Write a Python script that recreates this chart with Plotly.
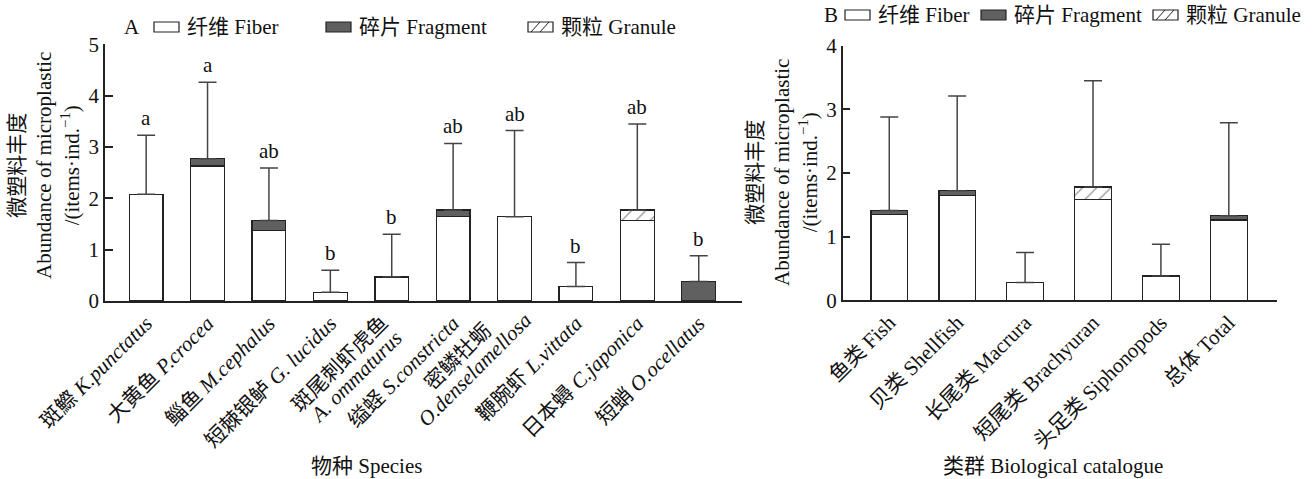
import plotly.graph_objects as go

W, H = 1315, 479
FONT = "Liberation Serif, Times New Roman, Noto Sans CJK SC, serif"
INK = "#222222"
FRAG = "#606060"
FS = 21

# ---- Panel A: species ----
species = [
    "斑鰶 <i>K.punctatus</i>", "大黄鱼 <i>P.crocea</i>", "鲻鱼 <i>M.cephalus</i>",
    "短棘银鲈 <i>G. lucidus</i>", "斑尾刺虾虎鱼<br><i>A. ommaturus</i>",
    "缢蛏 <i>S.constricta</i>", "密鳞牡蛎<br><i>O.denselamellosa</i>",
    "鞭腕虾 <i>L.vittata</i>", "日本蟳 <i>C.japonica</i>", "短蛸 <i>O.ocellatus</i>",
]
a_fiber = [2.08, 2.63, 1.38, 0.17, 0.47, 1.64, 1.64, 0.28, 1.57, 0.0]
a_fragment = [0.0, 0.14, 0.19, 0.0, 0.0, 0.13, 0.0, 0.0, 0.0, 0.38]
a_granule = [0.0, 0.0, 0.0, 0.0, 0.0, 0.0, 0.0, 0.0, 0.20, 0.0]
a_sd = [1.15, 1.49, 1.02, 0.43, 0.83, 1.30, 1.68, 0.47, 1.68, 0.50]
a_letters = ["a", "a", "ab", "b", "b", "ab", "ab", "b", "ab", "b"]

# ---- Panel B: biological groups ----
groups = ["鱼类 Fish", "贝类 Shellfish", "长尾类 Macrura", "短尾类 Brachyuran",
          "头足类 Siphonopods", "总体 Total"]
b_fiber = [1.35, 1.65, 0.28, 1.58, 0.38, 1.26]
b_fragment = [0.06, 0.07, 0.0, 0.0, 0.0, 0.07]
b_granule = [0.0, 0.0, 0.0, 0.20, 0.0, 0.0]
b_sd = [1.47, 1.49, 0.47, 1.67, 0.50, 1.46]

fig = go.Figure()


def nz(vals):
    # empty segments are left out so they draw no outline
    return [v if v > 0 else None for v in vals]


def add_panel(xa, ya, fiber, fragment, granule, sd, width):
    xs = list(range(len(fiber)))
    line = dict(color=INK, width=1.3)
    fig.add_bar(x=xs, y=nz(fiber), width=width, xaxis=xa, yaxis=ya,
                marker=dict(color="white", line=line), showlegend=False)
    fig.add_bar(x=xs, y=nz(fragment), width=width, xaxis=xa, yaxis=ya,
                marker=dict(color=FRAG, line=line), showlegend=False)
    fig.add_bar(x=xs, y=nz(granule), width=width, xaxis=xa, yaxis=ya,
                marker=dict(color="white", line=line,
                            pattern=dict(shape="/", fgcolor=INK, bgcolor="white",
                                         size=10, solidity=0.12)),
                showlegend=False)
    totals = [f + g + r for f, g, r in zip(fiber, fragment, granule)]
    fig.add_scatter(x=xs, y=totals, mode="markers", xaxis=xa, yaxis=ya,
                    marker=dict(size=1, color="rgba(0,0,0,0)"), showlegend=False,
                    error_y=dict(type="data", symmetric=False, array=sd,
                                 arrayminus=[0] * len(sd), color="#444444",
                                 thickness=1.5, width=9))
    return totals


a_tot = add_panel("x", "y", a_fiber, a_fragment, a_granule, a_sd, 0.55)
b_tot = add_panel("x2", "y2", b_fiber, b_fragment, b_granule, b_sd, 0.54)

axis_common = dict(showline=True, linecolor=INK, linewidth=1.5, showgrid=False,
                   zeroline=False, automargin=False,
                   tickfont=dict(family=FONT, size=FS, color="#111"))

# single-line species names go on the axis; two-line names are set separately
single = [i for i, s in enumerate(species) if "<br>" not in s]
multi = [i for i, s in enumerate(species) if "<br>" in s]

fig.update_layout(
    width=W, height=H, margin=dict(l=0, r=0, t=0, b=0),
    paper_bgcolor="white", plot_bgcolor="white", barmode="stack",
    font=dict(family=FONT, size=FS, color="#111"),
    xaxis=dict(domain=[105 / W, 741.7 / W], range=[-0.67, 9.70], anchor="y",
               tickvals=single, ticktext=[species[i] for i in single],
               tickangle=-45, ticks="", **axis_common),
    yaxis=dict(domain=[1 - 301 / H, 1 - 44.3 / H], range=[0, 5], anchor="x",
               tickvals=[0, 1, 2, 3, 4, 5], ticks="inside", ticklen=8,
               tickwidth=1.5, tickcolor=INK, **axis_common),
    xaxis2=dict(domain=[842.7 / W, 1276.7 / W], range=[-0.686, 5.705], anchor="y2",
                tickvals=list(range(len(groups))), ticktext=groups,
                tickangle=-45, ticks="", **axis_common),
    yaxis2=dict(domain=[1 - 300.3 / H, 1 - 45.7 / H], range=[0, 4], anchor="x2",
                tickvals=[0, 1, 2, 3, 4], ticks="inside", ticklen=8,
                tickwidth=1.5, tickcolor=INK, **axis_common),
)

# rotated two-line category names: (line offset from tick in px, line centre y in px)
line_offsets = [((-52, 364), (-36, 377)), ((-57, 357), (-40, 370))]
for i, offs in zip(multi, line_offsets):
    for part, (dx, yc) in zip(species[i].split("<br>"), offs):
        fig.add_annotation(x=i, xref="x", y=1 - yc / H, yref="paper", text=part,
                           xshift=dx, textangle=-45, showarrow=False,
                           xanchor="center", yanchor="middle",
                           font=dict(family=FONT, size=FS, color="#111"))

# significance letters above the error bars
for i, (t, s, lab) in enumerate(zip(a_tot, a_sd, a_letters)):
    fig.add_annotation(x=i, y=t + s, xref="x", yref="y", text=lab, showarrow=False,
                       yanchor="bottom", yshift=3, font=dict(family=FONT, size=FS))

ytitle = "微塑料丰度<br>Abundance of microplastic<br>/(items·ind.<sup>−1</sup>)"


def px(x, y):
    return x / W, 1 - y / H


def text_at(x, y, text, **kw):
    xp, yp = px(x, y)
    fig.add_annotation(x=xp, y=yp, xref="paper", yref="paper", text=text,
                       showarrow=False, font=dict(family=FONT, size=FS, color="#111"), **kw)


text_at(44, 166, ytitle, textangle=-90, xanchor="center", yanchor="middle")
text_at(782, 172, ytitle, textangle=-90, xanchor="center", yanchor="middle")
text_at(366, 466, "物种 Species", xanchor="center", yanchor="middle")
text_at(1053, 466, "类群 Biological catalogue", xanchor="center", yanchor="middle")


def legend_row(label_x, y, items, letter):
    text_at(label_x, y, letter, xanchor="left", yanchor="middle")
    for x0, name, kind in items:
        x1 = x0 + 25
        y0, y1 = y - 5, y + 5
        fill = FRAG if kind == "frag" else "white"
        a0, b0 = px(x0, y1)
        a1, b1 = px(x1, y0)
        fig.add_shape(type="rect", xref="paper", yref="paper", x0=a0, y0=b0, x1=a1, y1=b1,
                      line=dict(color=INK, width=1.2), fillcolor=fill)
        if kind == "gran":
            for dx in (3, 12):
                p0 = px(x0 + dx, y1)
                p1 = px(x0 + dx + 9, y0)
                fig.add_shape(type="line", xref="paper", yref="paper",
                              x0=p0[0], y0=p0[1], x1=p1[0], y1=p1[1],
                              line=dict(color=INK, width=1))
        text_at(x1 + 6, y, name, xanchor="left", yanchor="middle")


legend_row(122, 27, [(154, "纤维 Fiber", "fiber"), (326, "碎片 Fragment", "frag"),
                     (528, "颗粒 Granule", "gran")], "A")
legend_row(822, 15, [(845, "纤维 Fiber", "fiber"), (981, "碎片 Fragment", "frag"),
                     (1153, "颗粒 Granule", "gran")], "B")

fig.write_html("out.html")
